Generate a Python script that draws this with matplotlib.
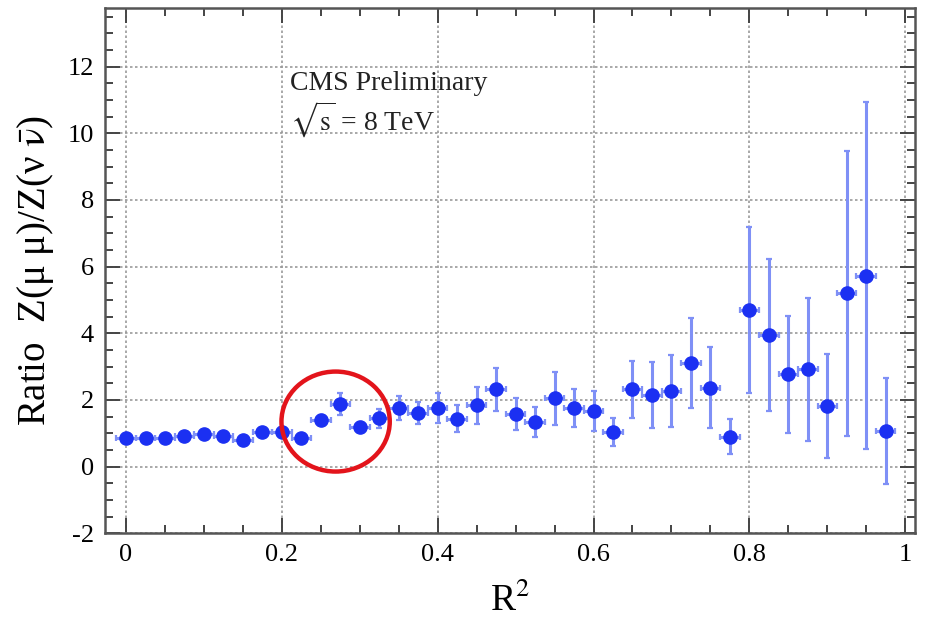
import numpy as np
import matplotlib
matplotlib.use("Agg")
import matplotlib.pyplot as plt
from matplotlib.patches import Ellipse
from matplotlib.ticker import MultipleLocator

plt.rcParams['font.family'] = ['Liberation Serif', 'DejaVu Serif']
plt.rcParams['mathtext.fontset'] = 'stix'
plt.rcParams['axes.unicode_minus'] = False

# R^2 bin centres and half-widths
r2 = np.arange(40) * 0.025
r2_err = 0.0125

ratio = [0.87, 0.87, 0.87, 0.92, 0.99, 0.92, 0.80, 1.03, 1.03, 0.87,
         1.39, 1.88, 1.19, 1.45, 1.77, 1.60, 1.77, 1.44, 1.84, 2.32,
         1.57, 1.34, 2.05, 1.77, 1.67, 1.04, 2.32, 2.15, 2.27, 3.12,
         2.37, 0.90, 4.70, 3.95, 2.77, 2.92, 1.82, 5.20, 5.73, 1.07]
ratio_err = [0.06, 0.06, 0.06, 0.07, 0.07, 0.08, 0.08, 0.09, 0.10, 0.10,
             0.15, 0.32, 0.16, 0.28, 0.36, 0.33, 0.45, 0.40, 0.55, 0.65,
             0.48, 0.46, 0.80, 0.57, 0.60, 0.43, 0.86, 1.00, 1.08, 1.35,
             1.22, 0.52, 2.50, 2.27, 1.75, 2.15, 1.56, 4.27, 5.20, 1.58]

fig = plt.figure(figsize=(9.25, 6.2), dpi=100)
ax = fig.add_axes([0.1135, 0.140, 0.876, 0.8466])

ax.errorbar(r2, ratio, xerr=r2_err, yerr=ratio_err, fmt='none',
            ecolor='#7f90f6', elinewidth=2.2, capsize=2.5, capthick=1.6,
            zorder=3)
ax.plot(r2, ratio, 'o', color='#1b30f2', markersize=9.5, zorder=4)

# highlight ring around the 0.25-0.33 bins
ax.add_patch(Ellipse((0.269, 1.35), 0.139, 3.0, fill=False,
                     edgecolor='#e3141b', linewidth=3.2, zorder=5))

ax.set_xlim(-0.027, 1.013)
ax.set_ylim(-2, 13.75)
ax.xaxis.set_major_locator(MultipleLocator(0.2))
ax.xaxis.set_minor_locator(MultipleLocator(0.05))
ax.yaxis.set_major_locator(MultipleLocator(2))
ax.yaxis.set_minor_locator(MultipleLocator(0.5))
ax.set_xticks([0, 0.2, 0.4, 0.6, 0.8, 1.0])
ax.set_xticklabels(['0', '0.2', '0.4', '0.6', '0.8', '1'])

ax.tick_params(which='both', direction='in', top=True, right=True,
               labelsize=19, color='#444444', width=1.4, pad=8)
ax.tick_params(which='major', length=11)
ax.tick_params(which='minor', length=6)
for s in ax.spines.values():
    s.set_linewidth(1.8)
    s.set_color('#555555')

ax.grid(True, which='major', linestyle=(0, (1.5, 1.5)), color='#999999',
        linewidth=1.2, zorder=0)
ax.set_axisbelow(True)

ax.set_xlabel(r'R$^2$', fontsize=27, labelpad=12)
ax.set_ylabel('Ratio  Z(μ μ)/Z(ν ' + r'$\bar{\mathrm{\nu}}$' + ')',
              fontsize=28, labelpad=8)

ax.text(0.21, 11.5, 'CMS Preliminary', fontsize=20, va='center',
        color='#222222')
ax.text(0.21, 10.4, r'$\sqrt{\mathrm{s}}$ = 8 TeV', fontsize=20,
        va='center', color='#222222')

fig.savefig('out.png', dpi=100)
